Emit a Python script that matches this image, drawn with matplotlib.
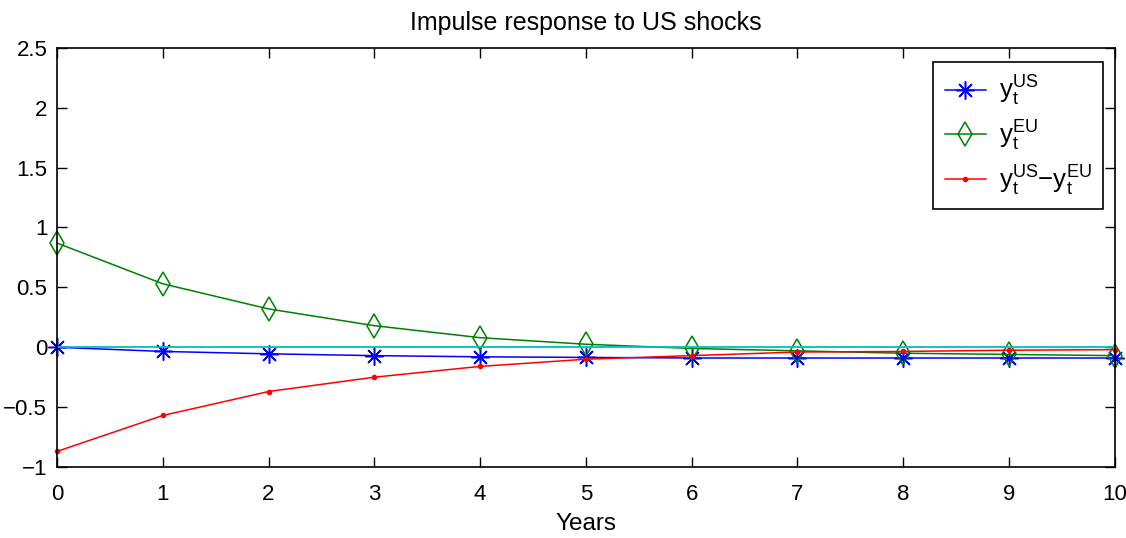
import numpy as np
import matplotlib
matplotlib.use("Agg")
import matplotlib.pyplot as plt

plt.rcParams['font.family'] = ['Liberation Sans', 'DejaVu Sans']
plt.rcParams['mathtext.fontset'] = 'custom'
plt.rcParams['mathtext.rm'] = 'Liberation Sans'
plt.rcParams['mathtext.it'] = 'Liberation Sans'

years = np.arange(0, 11)
y_us = [0.0, -0.035, -0.055, -0.07, -0.08, -0.085, -0.09, -0.09, -0.09, -0.09, -0.09]
y_eu = [0.87, 0.53, 0.32, 0.18, 0.08, 0.025, -0.01, -0.03, -0.05, -0.06, -0.07]
y_diff = [-0.87, -0.57, -0.37, -0.25, -0.16, -0.10, -0.07, -0.04, -0.035, -0.025, -0.02]
zero_line = [0.0] * len(years)

fig = plt.figure(figsize=(11.26, 5.38), dpi=100)
ax = fig.add_axes([0.0506, 0.132, 0.9394, 0.779])

ax.plot(years, y_us, color='blue', marker=(8, 2, 0), markersize=13, mew=1.1,
        lw=1.1, clip_on=False, label=r'$\mathrm{y_t^{US}}$')
ax.plot(years, y_eu, color='green', marker='d', markersize=12.5, mfc='none',
        mew=1.1, lw=1.1, clip_on=False, label=r'$\mathrm{y_t^{EU}}$')
ax.plot(years, y_diff, color='red', marker='.', markersize=6, lw=1.1,
        clip_on=False, label=r'$\mathrm{y_t^{US}{-}y_t^{EU}}$')
ax.plot(years, zero_line, color=(0, 0.75, 0.75), lw=1.3)

ax.set_xlim(0, 10)
ax.set_ylim(-1, 2.5)
ax.set_xticks(range(0, 11))
ax.set_yticks([-1, -0.5, 0, 0.5, 1, 1.5, 2, 2.5])
ax.set_yticklabels(['\u22121', '\u22120.5', '0', '0.5', '1', '1.5', '2', '2.5'])
ax.tick_params(direction='in', top=True, right=True, length=7, width=1,
               labelsize=16)
ax.tick_params(axis='x', pad=12)
ax.tick_params(axis='y', pad=7)
for s in ax.spines.values():
    s.set_linewidth(1.2)

ax.set_title('Impulse response to US shocks', fontsize=18, pad=13)
ax.set_xlabel('Years', fontsize=17.5, labelpad=6)

leg = ax.legend(loc='upper right', bbox_to_anchor=(0.989, 0.966),
                borderaxespad=0, fontsize=18.5, fancybox=False, framealpha=1,
                edgecolor='black', handlelength=1.6, handletextpad=0.5,
                labelspacing=0.42, borderpad=0.45)
leg.get_frame().set_linewidth(1.2)

plt.savefig('out.png', dpi=100)
